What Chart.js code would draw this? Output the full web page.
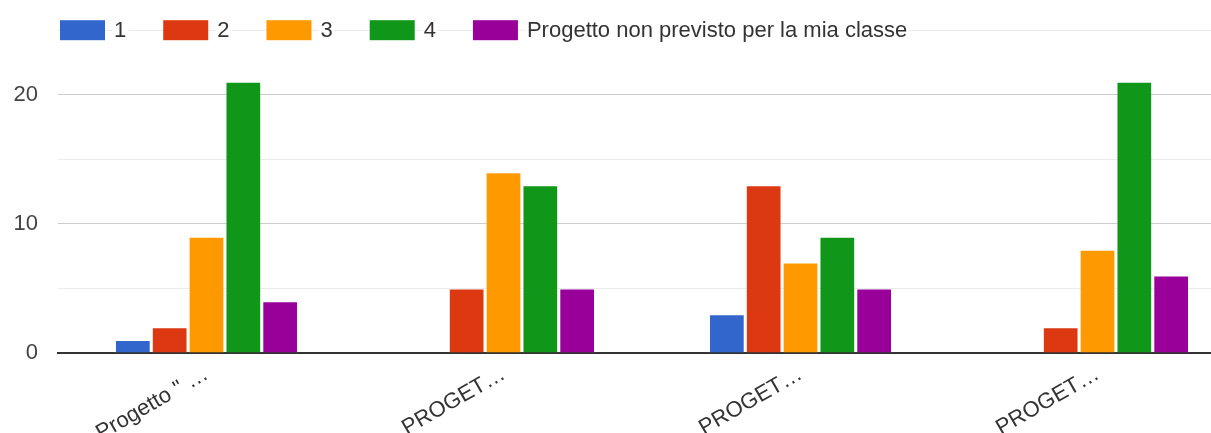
<!DOCTYPE html>
<html>
<head>
<meta charset="utf-8">
<script src="https://cdn.jsdelivr.net/npm/chart.js@4/dist/chart.umd.min.js"></script>
<style>
  html, body { margin: 0; padding: 0; background: #fff; overflow: hidden; }
  #wrap { width: 1250px; height: 436px; margin-top: -3px; }
</style>
</head>
<body>
<div id="wrap"><canvas id="myChart"></canvas></div>
<script>
// categories (labels are truncated as in the original)
const categories = ['Progetto " \u2026', 'PROGET\u2026', 'PROGET\u2026', 'PROGET\u2026'];
const seriesNames = ['1', '2', '3', '4', 'Progetto non previsto per la mia classe'];
const colors = ['#3366cc', '#dc3912', '#ff9900', '#109618', '#990099'];

// values per rating, one entry per category
const rating1 = [1, 0, 3, 0];
const rating2 = [2, 5, 13, 2];
const rating3 = [9, 14, 7, 8];
const rating4 = [21, 13, 9, 21];
const notPlanned = [4, 5, 5, 6];

const yTicksShown = [0, 10, 20];

const seriesValues = [rating1, rating2, rating3, rating4, notPlanned];

const FONT = 'Arial, "Liberation Sans", sans-serif';

const datasets = seriesNames.map((name, i) => ({
    label: name,
    data: seriesValues[i],
    backgroundColor: colors[i],
    borderColor: 'rgba(255,255,255,0.35)',
    borderWidth: 1
}));

// legend drawn on top of the 25 gridline, like the original
const overlayLegend = {
    id: 'overlayLegend',
    afterDraw(chart) {
        const c = chart.ctx;
        const y = chart.chartArea.top;
        let x = 60;
        c.save();
        c.font = '22px ' + FONT;
        c.textBaseline = 'middle';
        chart.data.datasets.forEach(ds => {
            c.fillStyle = ds.backgroundColor;
            c.fillRect(x, y - 10, 45, 20);
            x += 54;
            const w = c.measureText(ds.label).width;
            c.fillStyle = '#fff';
            c.fillRect(x - 2, y - 13, w + 4, 26);
            c.fillStyle = '#333';
            c.fillText(ds.label, x, y + 1);
            x += w + 37;
        });
        c.restore();
    }
};

const ctx = document.getElementById('myChart').getContext('2d');
const myChart = new Chart(ctx, {
    type: 'bar',
    data: { labels: categories, datasets: datasets },
    plugins: [overlayLegend],
    options: {
        responsive: true,
        maintainAspectRatio: false,
        animation: false,
        layout: { padding: { top: 30, right: 4, left: 0, bottom: 0 } },
        datasets: { bar: { categoryPercentage: 0.62, barPercentage: 0.97 } },
        plugins: {
            legend: { display: false },
            tooltip: { enabled: false }
        },
        scales: {
            x: {
                grid: { display: false, drawTicks: false },
                border: { display: true, color: '#333', width: 2 },
                ticks: {
                    color: '#333',
                    font: { size: 22, family: FONT },
                    minRotation: 30,
                    maxRotation: 30,
                    padding: 8
                },
                afterFit(scale) { scale.height = 80; }
            },
            y: {
                min: 0,
                max: 25,
                grid: {
                    drawTicks: false,
                    color: c => (c.tick && c.tick.value % 10 === 0) ? '#cccccc' : '#ebebeb',
                    lineWidth: 1
                },
                border: { display: false },
                ticks: {
                    stepSize: 5,
                    padding: 20,
                    color: '#444',
                    font: { size: 22, family: FONT },
                    callback: v => yTicksShown.includes(v) ? v : ''
                },
                afterFit(scale) { scale.width = 58; }
            }
        }
    }
});
</script>
</body>
</html>
